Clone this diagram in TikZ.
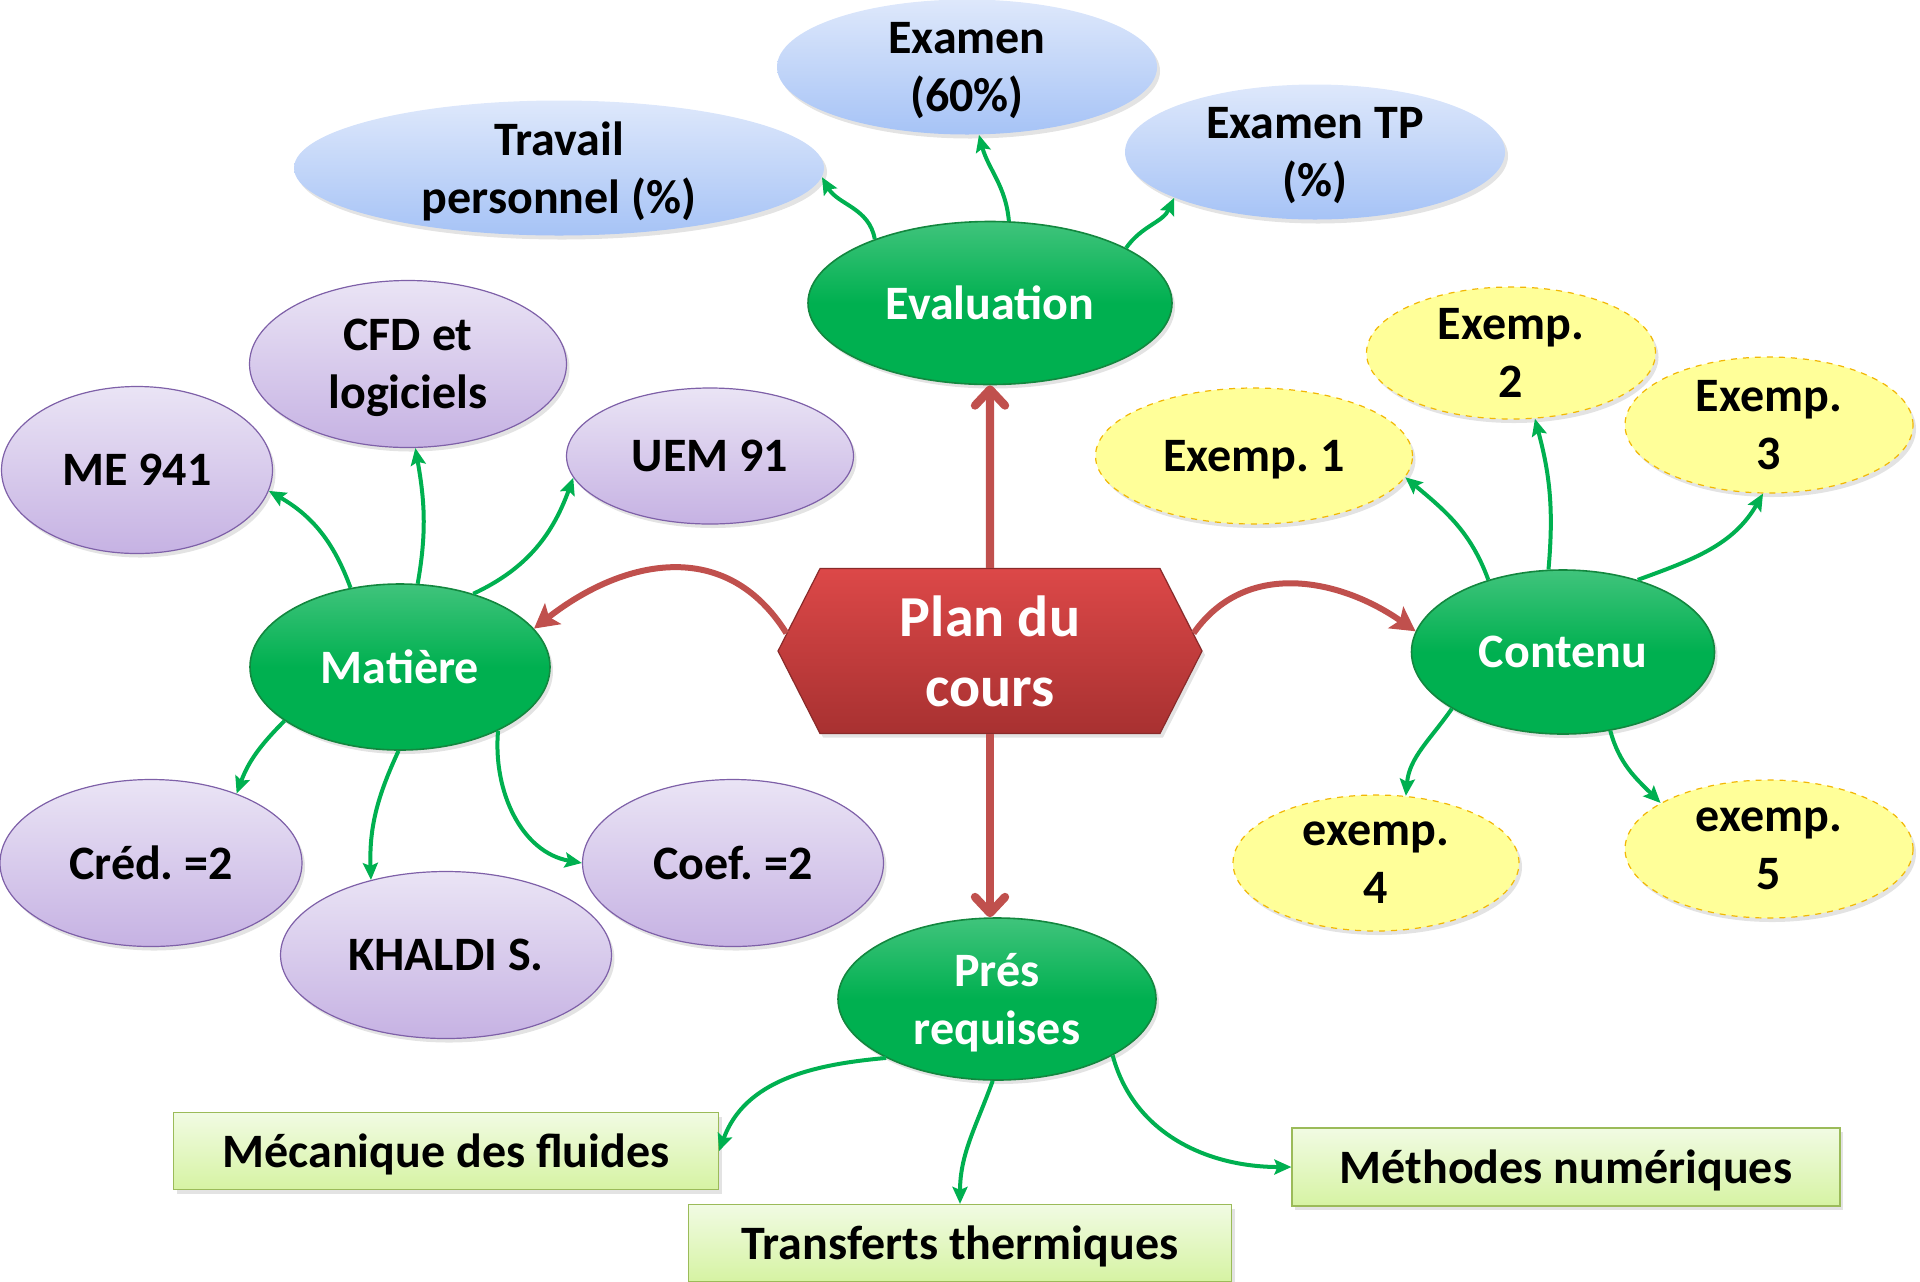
\documentclass[tikz,border=0pt]{standalone}
\usepackage{fontspec}
\setmainfont{Carlito}
\frenchspacing
\usetikzlibrary{arrows.meta,shapes.geometric,shapes.symbols,shadows}
\definecolor{vert}{HTML}{00B050}
\definecolor{vertfonce}{HTML}{13873F}
\definecolor{rouge}{HTML}{C0504D}
\definecolor{hexhaut}{HTML}{DC4848}
\definecolor{hexbas}{HTML}{A83131}
\definecolor{hexbord}{HTML}{8A2A2A}
\definecolor{bleuhaut}{HTML}{DEE8FB}
\definecolor{bleubas}{HTML}{A6C3F6}
\definecolor{mauvehaut}{HTML}{EAE4F5}
\definecolor{mauvebas}{HTML}{C6B2E3}
\definecolor{mauvebord}{HTML}{7E60A8}
\definecolor{jaunefond}{HTML}{FFFF99}
\definecolor{jaunebord}{HTML}{F2B705}
\definecolor{boitehaut}{HTML}{F1FBE3}
\definecolor{boitebas}{HTML}{D6F3A3}
\definecolor{boitebord}{HTML}{9BBB59}
\tikzstyle{ombre}=[drop shadow={opacity=.22,shadow xshift=1.5pt,shadow yshift=-2pt}]
\tikzstyle{txt}=[inner sep=0, align=center, text depth=0pt, font=\bfseries\fontsize{24}{29}\selectfont\frenchspacing]
\tikzstyle{bulle}=[ellipse, txt, ombre]
\tikzstyle{hub}=[bulle, draw=vertfonce, line width=.8pt, top color=vert!75!white, bottom color=vert, middle color=vert, text=white]
\tikzstyle{bleu}=[bulle, top color=bleuhaut, bottom color=bleubas]
\tikzstyle{mauve}=[bulle, draw=mauvebord, line width=.6pt, top color=mauvehaut, bottom color=mauvebas]
\tikzstyle{jaune}=[bulle, draw=jaunebord, dashed, line width=.6pt, fill=jaunefond]
\tikzstyle{boite}=[rectangle, txt, ombre, draw=boitebord, line width=.6pt, top color=boitehaut, bottom color=boitebas]
\tikzstyle{plan}=[signal, signal to=west and east, signal pointer angle=126, txt, ombre,
  font=\bfseries\fontsize{29}{35}\selectfont, text=white, draw=hexbord, line width=.6pt,
  top color=hexhaut, bottom color=hexbas, minimum width=212pt, minimum height=82.5pt]
\tikzstyle{fleche}=[draw=vert, line width=2pt, -{Stealth[length=8.5pt,width=7.5pt,inset=1.5pt]}]
\tikzstyle{rfleche}=[draw=rouge, line width=3pt, -{Stealth[length=12pt,width=13pt,inset=2.5pt]}]
\tikzstyle{rdroite}=[draw=rouge, line width=4.2pt, -{Straight Barb[round,length=8pt,width=15pt]}]
\tikzset{wh/.style 2 args={minimum width=#1*0.5pt, minimum height=#2*0.5pt}}

\begin{document}
\begin{tikzpicture}[x=0.5pt,y=-0.5pt]
\useasboundingbox (0,0) rectangle (1920,1281);
\draw (990,651) node[plan](plan) {Plan du\\cours};
\draw (990,303) node[hub,wh={364}{163}](eval) {Evaluation};
\draw (400,667) node[hub,wh={300}{166}](mat) {Matière};
\draw (1563,652) node[hub,wh={303}{164}](cont) {Contenu};
\draw (997,999) node[hub,wh={318}{162}](pres) {Prés\\requises};
\draw (559,168) node[bleu,wh={530}{135}](trav) {Travail\\personnel (\%)};
\draw (967,67) node[bleu,wh={380}{135}](exam) {Examen\\(60\%)};
\draw (1315,152) node[bleu,wh={380}{135}](tp) {Examen TP\\(\%)};
\draw (137,470) node[mauve,wh={271}{167}](me) {ME 941};
\draw (408,364) node[mauve,wh={317}{167}](cfd) {CFD et\\logiciels};
\draw (710,456) node[mauve,wh={287}{136}](uem) {UEM 91};
\draw (151,863) node[mauve,wh={302}{167}](cred) {Créd. =2};
\draw (446,955) node[mauve,wh={331}{167}](khal) {KHALDI S.};
\draw (733,863) node[mauve,wh={301}{167}](coef) {Coef. =2};
\draw (1254,456) node[jaune,wh={317}{136}](ex1) {Exemp. 1};
\draw (1511,353) node[jaune,wh={289}{132}](ex2) {Exemp.\\2};
\draw (1769,425) node[jaune,wh={288}{136}](ex3) {Exemp.\\3};
\draw (1376,863) node[jaune,wh={286}{136}](ex4) {exemp.\\4};
\draw (1769,849) node[jaune,wh={288}{138}](ex5) {exemp.\\5};
\draw (446,1151) node[boite,wh={545}{77}](meca) {Mécanique des fluides};
\draw (960,1243) node[boite,wh={543}{77}](trans) {Transferts thermiques};
\draw (1566,1167) node[boite,wh={548}{78}](meth) {Méthodes numériques};
\draw[rdroite] (plan) -- (eval);
\draw[rdroite] (plan.south) -- (plan.south |- pres.north);
\draw[rfleche] (plan.175) to[out=122,in=38,looseness=1.15] (mat.16);
\draw[rfleche] (plan.5) to[out=55,in=145,looseness=1.05] (cont.172);
\foreach \a/\b/\o/\i in {eval.151/trav.-2/100/-60, eval.77/exam.-80/95/-75, eval.22/tp.-162/55/-115,
  mat.122/me.-9/110/-30, mat.78/cfd.-85/80/-80, mat.45/uem.-171/25/-110,
  mat.-155/cred.39/-135/70, mat.-91/khal.135/-115/92, mat.-33/coef.180/-95/170,
  cont.136/ex1.-8/110/-40, cont.100/ex2.-70/85/-75, cont.44/ex3.-95/20/-120,
  cont.-153/ex4.66/-125/85, cont.-59/ex5.157/-75/135,
  pres.-152/meca.east/185/70, pres.-93/trans.north/-110/90, pres.-26/meth.west/-75/180}
  \draw[fleche] (\a) to[out=\o,in=\i] (\b);
\end{tikzpicture}
\end{document}
